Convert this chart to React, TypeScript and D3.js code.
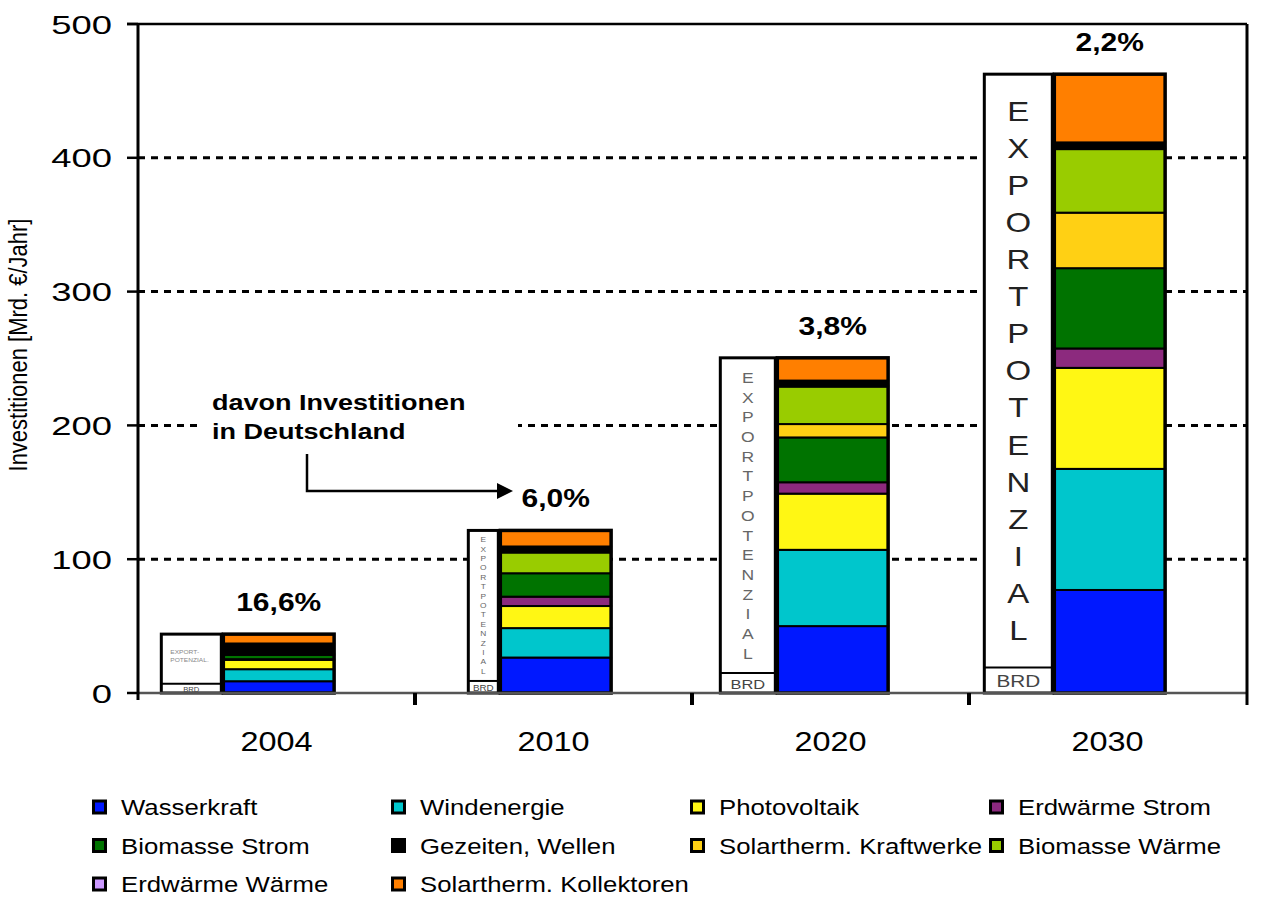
import * as d3 from "d3";

// Kategorien und Beschriftungen
const years = ["2004", "2010", "2020", "2030"];
const shareLabels = ["16,6%", "6,0%", "3,8%", "2,2%"];
// davon Investitionen in Deutschland (BRD-Kasten), Mrd. €/Jahr
const domestic = [7, 9, 15, 19];
const yTicks = [0, 100, 200, 300, 400, 500];

// Werte je Sparte (Mrd. €/Jahr), Stapelreihenfolge von unten nach oben
const wasserkraft = [8.8, 26.5, 50, 77];
const windenergie = [9, 22, 57, 90.5];
const photovoltaik = [7, 16.5, 42, 75.5];
const erdwaermeStrom = [0.5, 7, 8.5, 14.5];
const biomasseStrom = [3.2, 17.5, 33.5, 60];
const solarKraftwerke = [0, 0, 10, 41.5];
const biomasseWaerme = [1, 15.5, 28, 47.5];
const erdwaermeWaerme = [0, 1, 1, 1];
const gezeiten = [7.5, 3.5, 3.5, 4];
const solarKollektoren = [7, 12, 17, 51];

const series = [
  { key: "Wasserkraft", values: wasserkraft, color: "#0018ff" },
  { key: "Windenergie", values: windenergie, color: "#00c6cc" },
  { key: "Photovoltaik", values: photovoltaik, color: "#fff714" },
  { key: "Erdwärme Strom", values: erdwaermeStrom, color: "#8c2a7e" },
  { key: "Biomasse Strom", values: biomasseStrom, color: "#007300" },
  { key: "Solartherm. Kraftwerke", values: solarKraftwerke, color: "#ffd014" },
  { key: "Biomasse Wärme", values: biomasseWaerme, color: "#99cc00" },
  { key: "Erdwärme Wärme", values: erdwaermeWaerme, color: "#cc99ff" },
  { key: "Gezeiten, Wellen", values: gezeiten, color: "#000000" },
  { key: "Solartherm. Kollektoren", values: solarKollektoren, color: "#ff7f00" },
];

// Legende zeilenweise wie im Original
const legendRows = [
  ["Wasserkraft", "Windenergie", "Photovoltaik", "Erdwärme Strom"],
  ["Biomasse Strom", "Gezeiten, Wellen", "Solartherm. Kraftwerke", "Biomasse Wärme"],
  ["Erdwärme Wärme", "Solartherm. Kollektoren"],
];

const exportLetters = "EXPORTPOTENZIAL".split("");
const exportBoxWidth = [60, 30, 55, 68]; // Breite des Export-Kastens je Jahr (px)

const FONT = "'Liberation Sans', Arial, Helvetica, sans-serif";
const SX = 1.2; // Originalgrafik ist horizontal gestreckt

function Txt(props: any) {
  const { x, y, size, weight, anchor, fill, rotate, baseline, sx, children } = props;
  return (
    <text
      transform={`translate(${x},${y}) scale(${sx || SX},1)${rotate ? ` rotate(${rotate})` : ""}`}
      fontFamily={FONT}
      fontSize={size}
      fontWeight={weight || "normal"}
      textAnchor={anchor || "start"}
      dominantBaseline={baseline || "auto"}
      fill={fill || "#000"}
    >
      {children}
    </text>
  );
}

export default function App() {
  const width = 1265;
  const height = 897;
  const left = 138;
  const right = 1246;
  const top = 24;
  const bottom = 693;

  const x = d3.scaleBand<string>().domain(years).range([left, right]);
  const y = d3.scaleLinear().domain([0, 500]).range([bottom, top]);
  const bw = x.bandwidth();

  const table = years.map((yr, i) => {
    const row: any = { year: yr };
    series.forEach((s) => (row[s.key] = s.values[i]));
    return row;
  });
  const stacked = d3.stack<any>().keys(series.map((s) => s.key))(table);
  const totals = years.map((_, i) => d3.sum(series, (s) => s.values[i]));
  const colorOf = new Map(series.map((s) => [s.key, s.color]));

  const barX = (yr: string) => (x(yr) as number) + bw * 0.308;
  const barW = bw * 0.4;

  const legendX = d3.scaleLinear().domain([0, 1]).range([92, 391]);
  const legendY = d3.scaleLinear().domain([0, 1]).range([807, 845.5]);

  return (
    <svg
      width={width}
      height={height}
      style={{ position: "absolute", left: 0, top: 0, display: "block", background: "#fff" }}
    >
      {/* gestrichelte Gitterlinien */}
      {yTicks
        .filter((t) => t > 0 && t < 500)
        .map((t) => (
          <line
            key={"g" + t}
            x1={left}
            x2={right}
            y1={y(t)}
            y2={y(t)}
            stroke="#000"
            strokeWidth={3}
            strokeDasharray="7,6"
          />
        ))}

      {/* Anmerkung */}
      <rect x={198} y={384} width={320} height={64} fill="#fff" />
      <Txt x={212} y={410} size={22.5} weight="bold">davon Investitionen</Txt>
      <Txt x={212} y={439} size={22.5} weight="bold">in Deutschland</Txt>
      <path d="M307,454 V491 H498" fill="none" stroke="#000" strokeWidth={2.5} />
      <path d="M497,483 L513,491 L497,499 Z" fill="#000" />

      {/* Balken */}
      {years.map((yr, i) => {
        const bx = barX(yr);
        const boxR = bx - 2;
        const boxL = boxR - exportBoxWidth[i];
        const boxW = boxR - boxL;
        const yTop = y(totals[i]);
        const yBrd = y(domestic[i]);
        const step = (yBrd - yTop) / 16;
        const letterScale = d3
          .scalePoint<number>()
          .domain(d3.range(exportLetters.length))
          .range([yTop, yBrd])
          .padding(1);
        const brdSize = Math.min((bottom - yBrd) * 0.68, (boxW / (2.11 * SX)) * 0.8);
        return (
          <g key={yr}>
            <rect x={boxL} y={yTop} width={boxW} height={bottom - yTop} fill="#fff" stroke="#000" strokeWidth={3} />
            <line x1={boxL} x2={boxR} y1={yBrd} y2={yBrd} stroke="#000" strokeWidth={2} />
            <Txt
              x={(boxL + boxR) / 2}
              y={(yBrd + bottom) / 2 + 1}
              size={brdSize}
              anchor="middle"
              baseline="central"
              fill="#444"
            >
              BRD
            </Txt>
            {step >= 6 ? (
              exportLetters.map((ch, k) => (
                <Txt
                  key={k}
                  x={(boxL + boxR) / 2}
                  y={letterScale(k)}
                  size={step * 0.74}
                  anchor="middle"
                  baseline="central"
                  fill={step > 25 ? "#222" : "#666"}
                >
                  {ch}
                </Txt>
              ))
            ) : (
              <g>
                <Txt x={boxL + 9} y={yTop + 20} size={5.5} fill="#888">EXPORT-</Txt>
                <Txt x={boxL + 9} y={yTop + 28} size={5.5} fill="#888">POTENZIAL.</Txt>
              </g>
            )}
            {stacked.map((layer) => {
              const d = layer[i];
              const h = y(d[0]) - y(d[1]);
              if (h <= 0) return null;
              return (
                <rect
                  key={layer.key}
                  x={bx}
                  y={y(d[1])}
                  width={barW}
                  height={h}
                  fill={colorOf.get(layer.key)}
                  stroke="#000"
                  strokeWidth={2}
                />
              );
            })}
            <rect x={bx} y={yTop} width={barW} height={bottom - yTop} fill="none" stroke="#000" strokeWidth={3.5} />
            <Txt x={bx + barW / 2} y={yTop - 23} size={25} weight="bold" anchor="middle">
              {shareLabels[i]}
            </Txt>
          </g>
        );
      })}

      {/* Achsen und Rahmen */}
      <line x1={left} x2={right + 1} y1={bottom} y2={bottom} stroke="#555" strokeWidth={2.5} />
      <line x1={127} x2={right + 1} y1={top} y2={top} stroke="#000" strokeWidth={2.5} />
      <line x1={left} x2={left} y1={top} y2={700} stroke="#000" strokeWidth={3} />
      <line x1={right + 1} x2={right + 1} y1={top} y2={705} stroke="#000" strokeWidth={3} />
      {years.slice(1).map((yr) => (
        <line key={"t" + yr} x1={x(yr)} x2={x(yr)} y1={bottom} y2={705} stroke="#000" strokeWidth={4} />
      ))}
      {yTicks.map((t) => (
        <g key={"y" + t}>
          <line x1={127} x2={left} y1={y(t)} y2={y(t)} stroke="#000" strokeWidth={2.5} />
          <Txt x={112} y={y(t) + 9.5} size={26} sx={1.4} anchor="end">
            {t}
          </Txt>
        </g>
      ))}
      {years.map((yr) => (
        <Txt key={"x" + yr} x={(x(yr) as number) + bw / 2} y={751} size={27} anchor="middle">
          {yr}
        </Txt>
      ))}
      <Txt x={27} y={345} size={22} anchor="middle" rotate={-90}>
        Investitionen [Mrd. €/Jahr]
      </Txt>

      {/* Legende */}
      {legendRows.map((row, r) =>
        row.map((name, c) => (
          <g key={name}>
            <rect
              x={legendX(c) + 1.5}
              y={legendY(r) - 6}
              width={12}
              height={12}
              fill={colorOf.get(name)}
              stroke="#000"
              strokeWidth={3}
            />
            <Txt x={legendX(c) + 29} y={legendY(r) + 8} size={22} sx={1.17}>
              {name}
            </Txt>
          </g>
        ))
      )}
    </svg>
  );
}
